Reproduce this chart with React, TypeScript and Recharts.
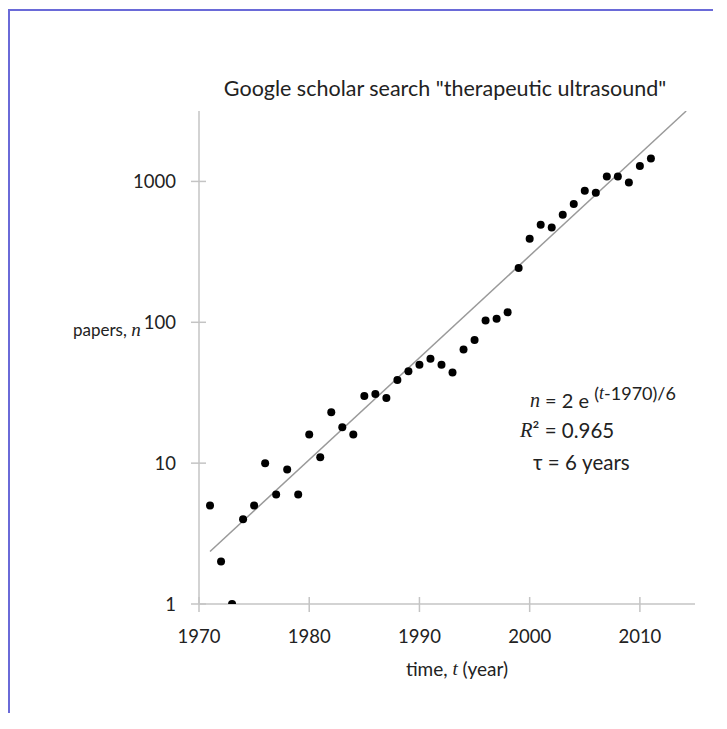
import React from 'react';
import { ComposedChart, Scatter, Line, XAxis, YAxis, Customized } from 'recharts';

// ---- data ----
const years = [
  1971, 1972, 1973, 1974, 1975, 1976, 1977, 1978, 1979, 1980,
  1981, 1982, 1983, 1984, 1985, 1986, 1987, 1988, 1989, 1990,
  1991, 1992, 1993, 1994, 1995, 1996, 1997, 1998, 1999, 2000,
  2001, 2002, 2003, 2004, 2005, 2006, 2007, 2008, 2009, 2010, 2011,
];
const papers = [
  5, 2, 1, 4, 5, 10, 6, 9, 6, 16,
  11, 23, 18, 16, 30, 31, 29, 39, 45, 50,
  55, 50, 44, 64, 75, 103, 106, 118, 243, 392,
  493, 470, 581, 691, 859, 832, 1085, 1085, 984, 1285, 1456,
];
// fitted line n = 2 e^((t-1970)/6), end points
const fitYears = [1971, 2014.2];
const fitPapers = [2.36, 3160];
const xTicks = [1970, 1980, 1990, 2000, 2010];
const yTicks = [1, 10, 100, 1000];
const titleText = 'Google scholar search "therapeutic ultrasound"';

const pointData = years.map((t, i) => ({ t, n: papers[i] }));
const fitData = fitYears.map((t, i) => ({ t, n: fitPapers[i] }));

// ---- layout ----
const W = 705;
const H = 705;
const PL = 191;
const PT = 103;
const PR = 687;
const PB = 596;
const Y_AXIS_W = 80;
const X_AXIS_H = 60;
const margin = { left: PL - Y_AXIS_W, top: PT, right: W - PR, bottom: H - PB - X_AXIS_H };

const AXIS = '#c4c4c4';
const FONT = 'Lato, "Open Sans", sans-serif';
const SERIF = '"Liberation Serif", "DejaVu Serif", serif';
const TXT = '#222';

const YTick = (props: any) => {
  const { y, payload } = props;
  return (
    <g>
      <line x1={PL - 8} x2={PL + 7} y1={y} y2={y} stroke={AXIS} strokeWidth={1.5} />
      <text x={PL - 23} y={y} textAnchor="end" dominantBaseline="central" fontSize={18.5} fontFamily={FONT} fill={TXT}>
        {payload.value}
      </text>
    </g>
  );
};

const XTick = (props: any) => {
  const { x, payload } = props;
  return (
    <g>
      <line x1={x} x2={x} y1={PB - 7} y2={PB + 8} stroke={AXIS} strokeWidth={1.5} />
      <text x={x} y={PB + 32} textAnchor="middle" dominantBaseline="central" fontSize={18.5} fontFamily={FONT} fill={TXT}>
        {payload.value}
      </text>
    </g>
  );
};

const Dot = (props: any) => <circle cx={props.cx} cy={props.cy} r={4} fill="#000" />;

const Texts = () => (
  <g fontFamily={FONT} fill={TXT}>
    <text x={437} y={80} textAnchor="middle" dominantBaseline="central" fontSize={21.5}>
      {titleText}
    </text>
    <text x={65} y={321} dominantBaseline="central" fontSize={17}>
      papers,{' '}
      <tspan fontFamily={SERIF} fontStyle="italic" fontSize={19}>n</tspan>
    </text>
    <text x={449} y={660} textAnchor="middle" dominantBaseline="central" fontSize={19}>
      time, <tspan fontFamily={SERIF} fontStyle="italic">t</tspan> (year)
    </text>
    <text x={522} y={392} dominantBaseline="central" fontSize={20}>
      <tspan fontFamily={SERIF} fontStyle="italic">n</tspan> = 2 e{' '}
      <tspan fontSize={18} dy={-7}>
        (<tspan fontFamily={SERIF} fontStyle="italic">t</tspan>-1970)/6
      </tspan>
    </text>
    <text x={512} y={422} dominantBaseline="central" fontSize={20.5}>
      <tspan fontFamily={SERIF} fontStyle="italic">R</tspan>² = 0.965
    </text>
    <text x={525} y={454} dominantBaseline="central" fontSize={20.5}>
      τ = 6 years
    </text>
  </g>
);

export default function App() {
  return (
    <div style={{ position: 'relative', width: W, height: H, overflow: 'hidden' }}>
      <ComposedChart width={W} height={H} margin={margin} style={{ background: '#fff' }}>
        <XAxis
          type="number"
          dataKey="t"
          domain={[1970, 2015]}
          ticks={xTicks}
          height={X_AXIS_H}
          axisLine={{ stroke: AXIS, strokeWidth: 1.5 }}
          tickLine={false}
          tick={XTick}
          allowDataOverflow
        />
        <YAxis
          type="number"
          dataKey="n"
          scale="log"
          domain={[1, 3162.28]}
          ticks={yTicks}
          width={Y_AXIS_W}
          axisLine={{ stroke: AXIS, strokeWidth: 1.5 }}
          tickLine={false}
          tick={YTick}
          allowDataOverflow
        />
        <Line
          data={fitData}
          dataKey="n"
          stroke="#9a9a9a"
          strokeWidth={1.5}
          dot={false}
          activeDot={false}
          isAnimationActive={false}
        />
        <Scatter data={pointData} dataKey="n" shape={Dot} isAnimationActive={false} />
        <Customized component={Texts} />
      </ComposedChart>
      <div
        style={{
          position: 'absolute',
          left: 0,
          top: 1,
          width: W,
          height: H - 1,
          borderLeft: '2px solid #6a6ad8',
          borderTop: '2px solid #6a6ad8',
          pointerEvents: 'none',
          boxSizing: 'border-box',
        }}
      />
    </div>
  );
}
